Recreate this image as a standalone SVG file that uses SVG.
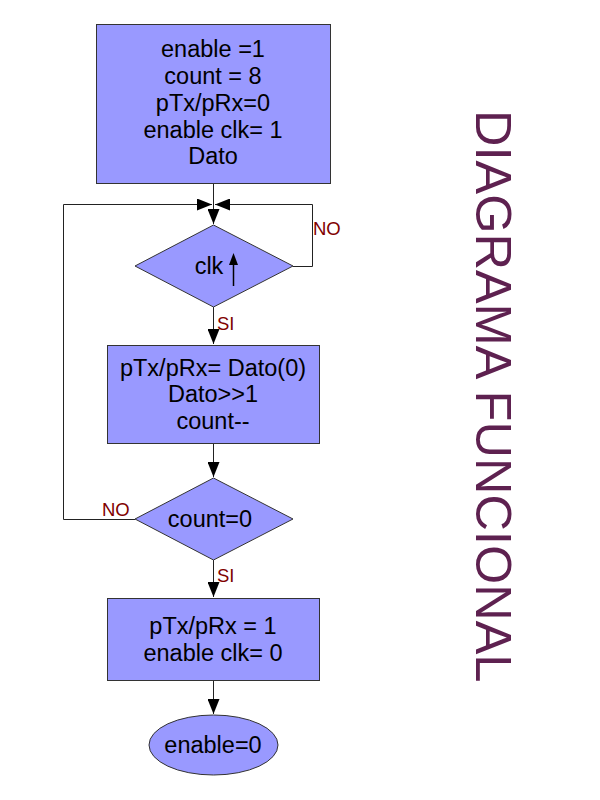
<svg xmlns="http://www.w3.org/2000/svg" width="600" height="800" viewBox="0 0 600 800">
<style>
.node{fill:#9999ff;stroke:#333;stroke-width:1}
.t{font-family:"Liberation Sans",Arial,sans-serif;font-size:23.5px;fill:#000;text-anchor:middle}
.lbl{font-family:"Liberation Sans",Arial,sans-serif;font-size:18.5px;fill:#800000}
.c{fill:none;stroke:#222;stroke-width:1}
</style>
<defs>
<marker id="ah" markerUnits="userSpaceOnUse" markerWidth="16" markerHeight="12" refX="15" refY="6" orient="auto">
<path d="M0,0 L15,6 L0,12 Z" fill="#000"/>
</marker>
</defs>
<rect width="600" height="800" fill="#fff"/>
<g id="connectors">
<path class="c" d="M213.5,184 V224" marker-end="url(#ah)"/>
<path class="c" d="M135,519.5 H63.5 V204.5 H212" marker-end="url(#ah)"/>
<path class="c" d="M293,266.5 H312.5 V204.5 H215" marker-end="url(#ah)"/>
<path class="c" d="M213.5,307 V344" marker-end="url(#ah)"/>
<path class="c" d="M213.5,443 V477" marker-end="url(#ah)"/>
<path class="c" d="M213.5,560 V597" marker-end="url(#ah)"/>
<path class="c" d="M213.5,680 V714" marker-end="url(#ah)"/>
</g>
<g id="n1">
<rect class="node" x="96.5" y="24.5" width="234" height="159"/>
<text class="t" x="213" y="57">enable =1</text>
<text class="t" x="213" y="84">count = 8</text>
<text class="t" x="213" y="111">pTx/pRx=0</text>
<text class="t" x="213" y="138">enable clk= 1</text>
<text class="t" x="213" y="164">Dato</text>
</g>
<g id="d1">
<polygon class="node" points="213.5,225 293,266 213.5,307 135,266"/>
<text class="t" x="209" y="274">clk</text>
<path d="M233.5,286 V262" stroke="#000" stroke-width="1.5"/>
<path d="M233.5,253 L238,265 L229,265 Z" fill="#000"/>
</g>
<g id="n2">
<rect class="node" x="107.5" y="345.5" width="212" height="98"/>
<text class="t" x="213" y="376">pTx/pRx= Dato(0)</text>
<text class="t" x="213" y="402">Dato&gt;&gt;1</text>
<text class="t" x="213" y="429">count--</text>
</g>
<g id="d2">
<polygon class="node" points="213.5,478 293,519 213.5,560 135,519"/>
<text class="t" x="210" y="527">count=0</text>
</g>
<g id="n3">
<rect class="node" x="107.5" y="598.5" width="212" height="82"/>
<text class="t" x="213" y="634">pTx/pRx = 1</text>
<text class="t" x="213" y="661">enable clk= 0</text>
</g>
<g id="e1">
<ellipse class="node" cx="213.5" cy="745" rx="64.5" ry="30"/>
<text class="t" x="213" y="753">enable=0</text>
</g>
<g id="labels">
<text class="lbl" x="313" y="235">NO</text>
<text class="lbl" x="217" y="330">SI</text>
<text class="lbl" x="102" y="516">NO</text>
<text class="lbl" x="217" y="582">SI</text>
</g>
<text x="476" y="110" transform="rotate(90 476 110)" font-family="'Liberation Sans',Arial,sans-serif" font-size="50.5" fill="#5e2150">DIAGRAMA FUNCIONAL</text>
</svg>
